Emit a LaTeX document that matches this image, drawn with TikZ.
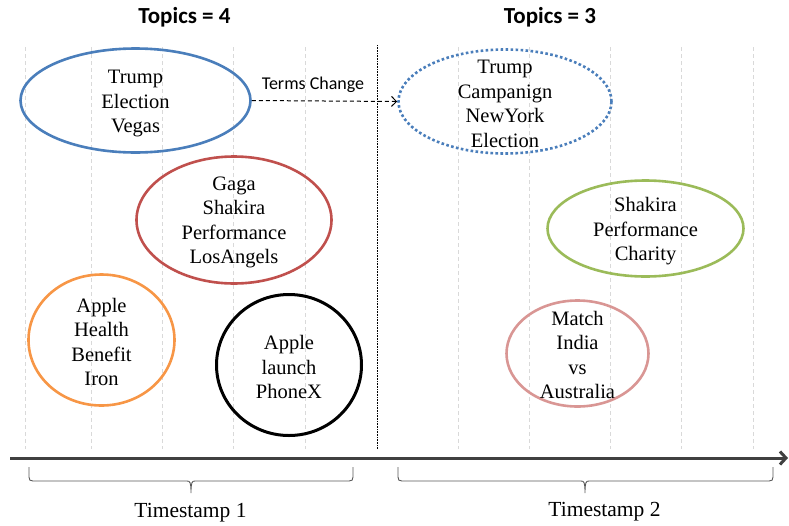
\documentclass[tikz,border=0pt]{standalone}
\usepackage{fontspec}
\setmainfont{Liberation Serif}
\newfontfamily\calfont{Carlito}
\usetikzlibrary{shapes.geometric,arrows.meta}
\definecolor{tblue}{HTML}{4A7EBB}
\definecolor{tred}{HTML}{C0504D}
\definecolor{torange}{HTML}{F79646}
\definecolor{tgreen}{HTML}{9BBB59}
\definecolor{tpink}{HTML}{D99694}
\definecolor{gridgray}{HTML}{D9D9D9}
\definecolor{axisgray}{HTML}{404040}
\definecolor{bracegray}{HTML}{595959}
\tikzset{
  topic/.style={ellipse, inner sep=0pt, line width=2.6pt},
  lbl/.style={align=center, inner sep=0pt, font=\fontsize{20.5}{24.5}\selectfont},
  gridline/.style={draw=gridgray, line width=0.9pt, dash pattern=on 4pt off 3pt},
  title/.style={font=\calfont\bfseries\fontsize{23}{27}\selectfont, anchor=base},
  stamp/.style={font=\fontsize{21.5}{25}\selectfont, anchor=base},
  bracepath/.style={draw=bracegray, line width=0.9pt},
}
\begin{document}
\begin{tikzpicture}[x=1pt,y=-1pt]
\useasboundingbox (0,0) rectangle (789,525);
% grid lines
\foreach \x in {25,91,162,233,305,458,529,610,681,753}
  \draw[gridline] (\x,47) -- (\x,449);
% separator
\coordinate (sepT) at (377,45);
\coordinate (sepB) at (377,449);
\draw[black, line width=0.8pt, dash pattern=on 0.8pt off 0.8pt] (sepT) -- (sepB);
% titles
\node[title] (title1) at (184.5,23) {Topics = 4};
\node[title] (title2) at (550,23) {Topics = 3};
% topics timestamp 1
\node[topic, draw=tblue, minimum width=230pt, minimum height=104pt] (t1) at (135.5,100.5) {};
\node[lbl] (t1l) at (135.5,103.5) {Trump\\Election\\Vegas};
\node[topic, draw=tred, minimum width=195pt, minimum height=127pt] (t2) at (234,220) {};
\node[lbl] (t2l) at (234,222.5) {Gaga\\Shakira\\Performance\\LosAngels};
\node[topic, draw=torange, minimum width=146pt, minimum height=131pt] (t3) at (101.5,340) {};
\node[lbl] (t3l) at (101.5,342) {Apple\\Health\\Benefit\\Iron};
\node[topic, draw=black, line width=3pt, minimum width=145pt, minimum height=141pt] (t4) at (289,365) {};
\node[lbl] (t4l) at (289,367) {Apple\\launch\\PhoneX};
% topics timestamp 2
\node[topic, draw=tblue, dash pattern=on 2.6pt off 2.4pt, minimum width=213pt, minimum height=104pt] (t5) at (505,101.5) {};
\node[lbl] (t5l) at (505,104) {Trump\\Campanign\\NewYork\\Election};
\node[topic, draw=tgreen, minimum width=196pt, minimum height=96pt] (t6) at (645.5,228.5) {};
\node[lbl] (t6l) at (645.5,231.5) {Shakira\\Performance\\Charity};
\node[topic, draw=tpink, minimum width=142pt, minimum height=106pt] (t7) at (577.5,353.5) {};
\node[lbl] (t7l) at (577.5,355) {Match\\India\\vs\\Australia};
% terms change arrow
\draw[black, line width=1pt, dash pattern=on 4pt off 3pt, -{Straight Barb[length=5pt,width=10pt]}] (t1.east) -- (t5.west);
\node[font=\calfont\fontsize{18}{21}\selectfont, inner sep=0pt] (tc) at (313,85) {Terms Change};
% time axis
\coordinate (axL) at (10,458);
\coordinate (axR) at (788,458);
\draw[axisgray, line width=3pt, -{Straight Barb[length=6pt,width=13pt]}] (axL) -- (axR);
% braces
\coordinate (b1L) at (29,467);
\coordinate (b1R) at (353,467);
\coordinate (b1T) at (191,493);
\draw[bracepath] (b1L) -- (29,477) .. controls (29,480) and (30,481) .. (33,481) -- (187,481)
  .. controls (190,481) and (191,482) .. (b1T)
  .. controls (191,482) and (192,481) .. (195,481) -- (349,481)
  .. controls (352,481) and (353,480) .. (353,477) -- (b1R);
\coordinate (b2L) at (398,467);
\coordinate (b2R) at (773,467);
\coordinate (b2T) at (585,493);
\draw[bracepath] (b2L) -- (398,477) .. controls (398,480) and (399,481) .. (402,481) -- (581,481)
  .. controls (584,481) and (585,482) .. (b2T)
  .. controls (585,482) and (586,481) .. (589,481) -- (769,481)
  .. controls (772,481) and (773,480) .. (773,477) -- (b2R);
\node[stamp] (ts1) at (190.5,517) {Timestamp 1};
\node[stamp] (ts2) at (604.5,516) {Timestamp 2};
\end{tikzpicture}
\end{document}
